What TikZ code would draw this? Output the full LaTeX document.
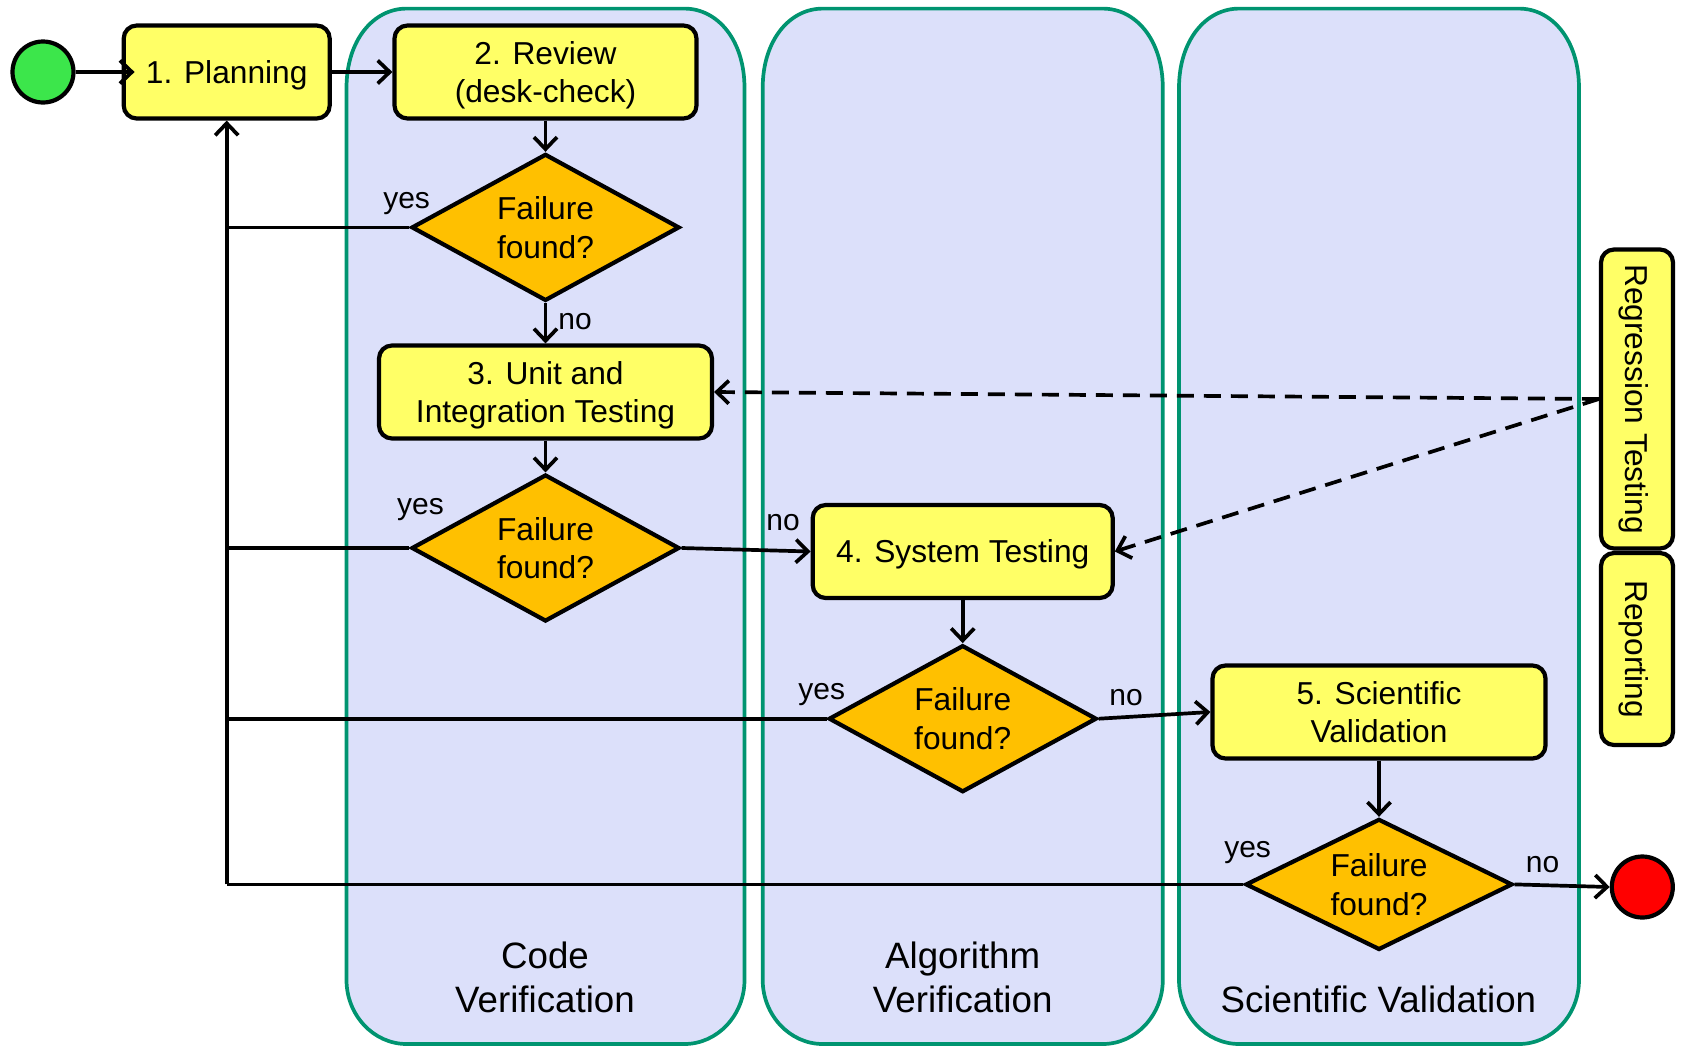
\documentclass[tikz,border=0pt]{standalone}
\usepackage{fontspec}
\setmainfont{Liberation Sans}
\usetikzlibrary{shapes.geometric,arrows.meta}
\definecolor{lanegreen}{RGB}{0,148,112}
\definecolor{lanefill}{RGB}{220,224,250}
\definecolor{boxyellow}{RGB}{255,255,102}
\definecolor{diaorange}{RGB}{255,192,0}
\definecolor{startgreen}{RGB}{60,230,75}
\newcommand{\nodep}[1]{\raisebox{0pt}[\height][0pt]{#1}}
\newcommand{\swimlane}[2]{%
  \draw[lanebox] (#1,88) .. controls (#1,40) and (#1+27,8.6) .. (#1+60,8.6)
    -- (#2-60,8.6) .. controls (#2-27,8.6) and (#2,40) .. (#2,88)
    -- (#2,980) .. controls (#2,1015) and (#2-27,1044) .. (#2-60,1044)
    -- (#1+60,1044) .. controls (#1+27,1044) and (#1,1015) .. (#1,980) -- cycle;}
\begin{document}
\begin{tikzpicture}[x=1pt,y=-1pt,
  lanebox/.style={draw=lanegreen,fill=lanefill,line width=3.7pt},
  stepbox/.style={draw,fill=boxyellow,line width=4.2pt,rounded corners=13pt,align=center,inner sep=0pt,font=\fontsize{31.7}{38.6}\selectfont},
  decide/.style={diamond,draw,fill=diaorange,line width=4.2pt,align=center,inner sep=0pt,font=\fontsize{31.7}{38.6}\selectfont},
  conn/.style={line width=3.7pt,-{Straight Barb[length=12pt,width=23pt,line width=3.7pt]}},
  plain/.style={line width=3.7pt},
  dconn/.style={conn,dash pattern=on 17pt off 10pt},
  lbl/.style={font=\fontsize{30}{36}\selectfont,inner sep=0pt},
  lanelbl/.style={font=\fontsize{36.7}{44}\selectfont,align=center,inner sep=0pt},
]
\useasboundingbox (0,0) rectangle (1682,1047);
\swimlane{346.5}{744.5}
\swimlane{762.7}{1162.8}
\swimlane{1179}{1579}

\node[circle,draw,fill=startgreen,line width=4.2pt,minimum size=61pt,inner sep=0pt] (start) at (43,72) {};
\node[stepbox,minimum width=206pt,minimum height=93pt] (plan) at (226.7,72) {\nodep{1. Planning}};
\node[stepbox,minimum width=302pt,minimum height=93pt] (review) at (545.5,72) {2. Review\\\nodep{(desk-check)}};
\node[decide,aspect=1.8,minimum width=268pt,minimum height=147pt] (d1) at (545.5,227.4) {Failure\\found?};
\node[stepbox,minimum width=333pt,minimum height=93pt] (unit) at (545.5,392) {3. Unit and\\\nodep{Integration Testing}};
\node[decide,aspect=1.8,minimum width=268pt,minimum height=147pt] (d2) at (545.5,548) {Failure\\found?};
\node[stepbox,minimum width=300pt,minimum height=93pt] (sys) at (962.7,551.5) {\nodep{4. System Testing}};
\node[decide,aspect=1.8,minimum width=268pt,minimum height=147pt] (d3) at (962.7,718.7) {Failure\\found?};
\node[stepbox,minimum width=333pt,minimum height=93pt] (sci) at (1379,712) {5. Scientific\\Validation};
\node[decide,aspect=2,minimum width=267pt,minimum height=131pt] (d4) at (1379,884.4) {Failure\\found?};
\node[circle,draw,fill=red,line width=4.2pt,minimum size=61pt,inner sep=0pt] (stop) at (1642.3,887) {};
\node[stepbox,rotate=-90,minimum width=299pt,minimum height=72pt] (reg) at (1637,399) {\nodep{Regression Testing}};
\node[stepbox,rotate=-90,minimum width=192pt,minimum height=72pt] (rep) at (1637,649) {\nodep{Reporting}};

\draw[conn] (start.east) -- ([xshift=13pt]plan.west);
\draw[conn] (plan.east) -- (review.west);
\draw[conn] (review.south) -- (d1.north);
\draw[conn] (d1.south) -- (unit.north);
\draw[conn] (unit.south) -- (d2.north);
\draw[conn] (d2.east) -- (sys.west);
\draw[conn] (sys.south) -- (d3.north);
\draw[conn] (d3.east) -- (sci.west);
\draw[conn] (sci.south) -- (d4.north);
\draw[conn] (d4.east) -- (stop.west);

\draw[plain] (d1.west) -- (d1.west -| plan.south);
\draw[plain] (d2.west) -- (d2.west -| plan.south);
\draw[plain] (d3.west) -- (d3.west -| plan.south);
\draw[plain] (d4.west) -- (d4.west -| plan.south);
\draw[conn] (d4.west -| plan.south) -- (plan.south);

\draw[dconn] (reg.south) -- (unit.east);
\draw[dconn] (reg.south) -- (sys.east);

\node[lbl] (y1) at (406.6,203.9) {yes};
\node[lbl] (n1) at (575,321.8) {no};
\node[lbl] (y2) at (420.5,509.4) {yes};
\node[lbl] (n2) at (783,522.2) {no};
\node[lbl] (y3) at (821.7,694.1) {yes};
\node[lbl] (n3) at (1126,697.2) {no};
\node[lbl] (y4) at (1247.6,852.8) {yes};
\node[lbl] (n4) at (1542.5,864.4) {no};

\node[lanelbl] (l1) at (545,977.7) {Code\\Verification};
\node[lanelbl] (l2) at (962.7,977.7) {Algorithm\\Verification};
\node[lanelbl] (l3) at (1378.4,999.7) {Scientific Validation};
\end{tikzpicture}
\end{document}
